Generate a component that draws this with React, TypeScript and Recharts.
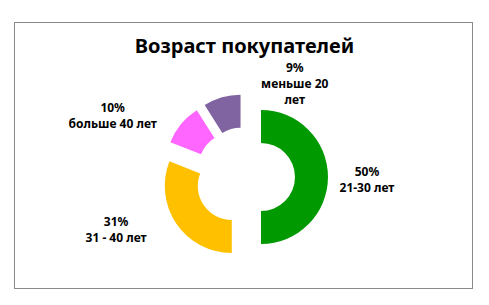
import React from 'react';
import { PieChart, Pie, Cell, Sector } from 'recharts';

const title = 'Возраст покупателей';
const categories = ['21-30 лет', '31 - 40 лет', 'больше 40 лет', 'меньше 20 лет'];
const shares = [50, 31, 10, 9];
const colors = ['#009900', '#FFC000', '#FF66FF', '#8064A2'];

const data = categories.map((name, i) => ({ name, value: shares[i] }));

const CX = 245;
const CY = 177;
const INNER = 34;
const OUTER = 67;
const EXPLODE = 16;
const RAD = Math.PI / 180;
const FONT = '"Noto Sans", "Open Sans", sans-serif';

// label placement: clockwise-from-top angle and distance from the pie centre, wrap width (chars)
const labelLayout = [
  { angle: 91, dist: 122, wrap: 20 },
  { angle: 248, dist: 139, wrap: 20 },
  { angle: 295, dist: 146, wrap: 20 },
  { angle: 28, dist: 106, wrap: 10 },
];

function wrapText(s: string, max: number): string[] {
  const words = s.split(' ');
  const out: string[] = [];
  let cur = '';
  for (const w of words) {
    const t = cur ? cur + ' ' + w : w;
    if (t.length > max && cur) {
      out.push(cur);
      cur = w;
    } else cur = t;
  }
  if (cur) out.push(cur);
  return out;
}

const ExplodedSector = (props: any) => {
  const a = -props.midAngle * RAD;
  return (
    <Sector
      {...props}
      cx={props.cx + EXPLODE * Math.cos(a)}
      cy={props.cy + EXPLODE * Math.sin(a)}
    />
  );
};

const renderLabel = (p: any) => {
  const L = labelLayout[p.index];
  const x = p.cx + L.dist * Math.sin(L.angle * RAD);
  const y = p.cy - L.dist * Math.cos(L.angle * RAD);
  const lines = [`${Math.round(p.percent * 100)}%`, ...wrapText(p.name, L.wrap)];
  const lh = 16;
  const y0 = y - ((lines.length - 1) * lh) / 2;
  return (
    <text
      x={x}
      y={y0}
      textAnchor="middle"
      dominantBaseline="central"
      fontFamily={FONT}
      fontWeight={700}
      fontSize={12}
      fill="#000"
    >
      {lines.map((t, i) => (
        <tspan key={i} x={x} y={y0 + i * lh}>
          {t}
        </tspan>
      ))}
    </text>
  );
};

export default function App() {
  return (
    <div style={{ position: 'absolute', left: 0, top: 0, width: 489, height: 305, background: '#fff' }}>
      <div
        style={{
          position: 'absolute',
          left: 14,
          top: 22,
          width: 457,
          height: 265,
          border: '1px solid #8a8a8a',
        }}
      />
      <div
        style={{
          position: 'absolute',
          left: 0,
          width: 489,
          top: 32,
          textAlign: 'center',
          fontFamily: FONT,
          fontWeight: 700,
          fontSize: 20,
          lineHeight: '28px',
          color: '#000',
        }}
      >
        {title}
      </div>
      <div style={{ position: 'absolute', left: 0, top: 0 }}>
        <PieChart width={489} height={305} margin={{ top: 0, right: 0, bottom: 0, left: 0 }}>
          <Pie
            data={data}
            dataKey="value"
            nameKey="name"
            cx={CX}
            cy={CY}
            innerRadius={INNER}
            outerRadius={OUTER}
            startAngle={90}
            endAngle={-270}
            stroke="none"
            isAnimationActive={false}
            shape={ExplodedSector}
            inactiveShape={ExplodedSector}
            label={renderLabel}
            labelLine={false}
          >
            {data.map((d, i) => (
              <Cell key={d.name} fill={colors[i]} />
            ))}
          </Pie>
        </PieChart>
      </div>
    </div>
  );
}
